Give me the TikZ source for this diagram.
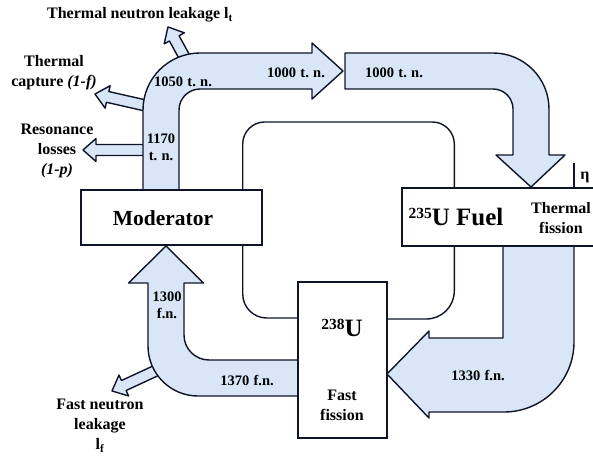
\documentclass[tikz,border=0pt]{standalone}
\usepackage{fontspec}
\setmainfont{Liberation Serif}
\definecolor{tubefill}{RGB}{216,230,248}
\definecolor{edge}{RGB}{15,20,40}
\newcommand\lossarrow[4]{%
  \begin{scope}[shift={(#1,#2)},rotate=#3]
    \draw[tube] (0,5.5) -- ({#4-13},5.5) -- ({#4-13},11.5) -- (#4,0) -- ({#4-13},-11.5) -- ({#4-13},-5.5) -- (0,-5.5) -- cycle;
  \end{scope}}
\newcommand\isotope[1]{\raisebox{0.62ex}{\fontsize{15.5}{16}\selectfont #1}}
\newcommand\widespaces{\spaceskip=0.3em\relax\xspaceskip=0.3em\relax}
\begin{document}
\begin{tikzpicture}[x=1pt,y=1pt,
  tube/.style={fill=tubefill,draw=edge,line width=1.4pt,line join=round},
  box/.style={draw=edge,fill=white,line width=1.4pt,inner sep=0pt},
  thinline/.style={draw=edge,line width=1.4pt},
  lbl/.style={font=\fontsize{16}{20}\selectfont\bfseries,align=center,text=black},
  num/.style={font=\fontsize{14.5}{17}\selectfont\bfseries,align=center,text=black,execute at begin node=\widespaces},
  big/.style={font=\fontsize{21.5}{24}\selectfont\bfseries,text=black},
  bigger/.style={font=\fontsize{25}{28}\selectfont\bfseries,text=black}]
\useasboundingbox (0,0) rectangle (593,455);
\clip (0,0) rectangle (593,455);

% loss arrows (drawn first, tubes cover their bases)
\lossarrow{185}{397}{118.7}{35.4}
\lossarrow{152}{348}{167.2}{58.5}
\lossarrow{152}{305}{180}{69}
\lossarrow{166}{89}{204.8}{59.5}

% thermal tube from moderator
\draw[tube] (143,265) -- (143,345) arc[start angle=180,end angle=90,radius=57]
  -- (312,402) -- (312,412) -- (343,384) -- (312,356) -- (312,366) -- (200,366)
  arc[start angle=90,end angle=180,radius=21] -- (179,265) -- cycle;
% thermal tube to fuel
\draw[tube] (345,402) -- (493,402) arc[start angle=90,end angle=0,radius=56]
  -- (549,300) -- (565,300) -- (531,268) -- (496,300) -- (513,300) -- (513,346)
  arc[start angle=0,end angle=90,radius=20] -- (345,366) -- cycle;
% fast tube from fuel to 238U
\draw[tube] (574,209) -- (574,113) arc[start angle=0,end angle=-90,radius=70]
  -- (429,43) -- (429,37) -- (387,81) -- (429,124) -- (429,117) -- (503,117) -- (503,209) -- cycle;
% fast tube from 238U to moderator
\draw[tube] (298,95) -- (209,95) arc[start angle=270,end angle=180,radius=25]
  -- (184,172) -- (203.5,172) -- (166,209) -- (128.5,172) -- (148,172) -- (148,109)
  arc[start angle=180,end angle=270,radius=50] -- (298,59) -- cycle;

% boxes
\node[box,minimum width=181pt,minimum height=55pt] (mod) at (171.5,237.5) {};
\node[box,minimum width=201pt,minimum height=58pt] (fuel) at (502.5,238) {};
\node[box,minimum width=89pt,minimum height=156pt] (u238) at (342.5,95) {};

% thin loop lines
\draw[thinline,rounded corners=22pt] ([xshift=-20pt]mod.north east) |- (333,333) -| ([xshift=53pt]fuel.north west);
\draw[thinline,rounded corners=24pt] ([xshift=-20pt]mod.south east) |- (u238.west |- 0,137);
\draw[thinline,rounded corners=28pt] ([xshift=53pt]fuel.south west) |- (u238.east |- 0,136);
\draw[thinline] (fuel.north west -| 574,0) -- (574,292);
\node[lbl] at (585,278) {η};

% labels
\node[lbl] at (140,440) {Thermal neutron leakage l\textsubscript{t}};
\node[lbl] at (54,382) {Thermal\\capture \textit{(1-f)}};
\node[lbl] at (57,304) {Resonance\\losses\\\textit{(1-p)}};
\node[num] at (183,373) {1050 t. n.};
\node[num] at (161,308) {1170\\t. n.};
\node[num] at (296,382) {1000 t. n.};
\node[num] at (394,382) {1000 t. n.};
\node[big] at (163,237) {Moderator};
\node[bigger] at (456,238) {\isotope{235}U Fuel};
\node[lbl] at (561,237) {Thermal\\fission};
\node[bigger] at (342,127) {\isotope{238}U};
\node[lbl] at (342,50) {Fast\\fission};
\node[num] at (167,150) {1300\\f.n.};
\node[num] at (247,75) {1370 f.n.};
\node[num] at (478,80) {1330 f.n.};
\node[lbl] at (100,29) {Fast neutron\\leakage\\l\textsubscript{f}};
\end{tikzpicture}
\end{document}
